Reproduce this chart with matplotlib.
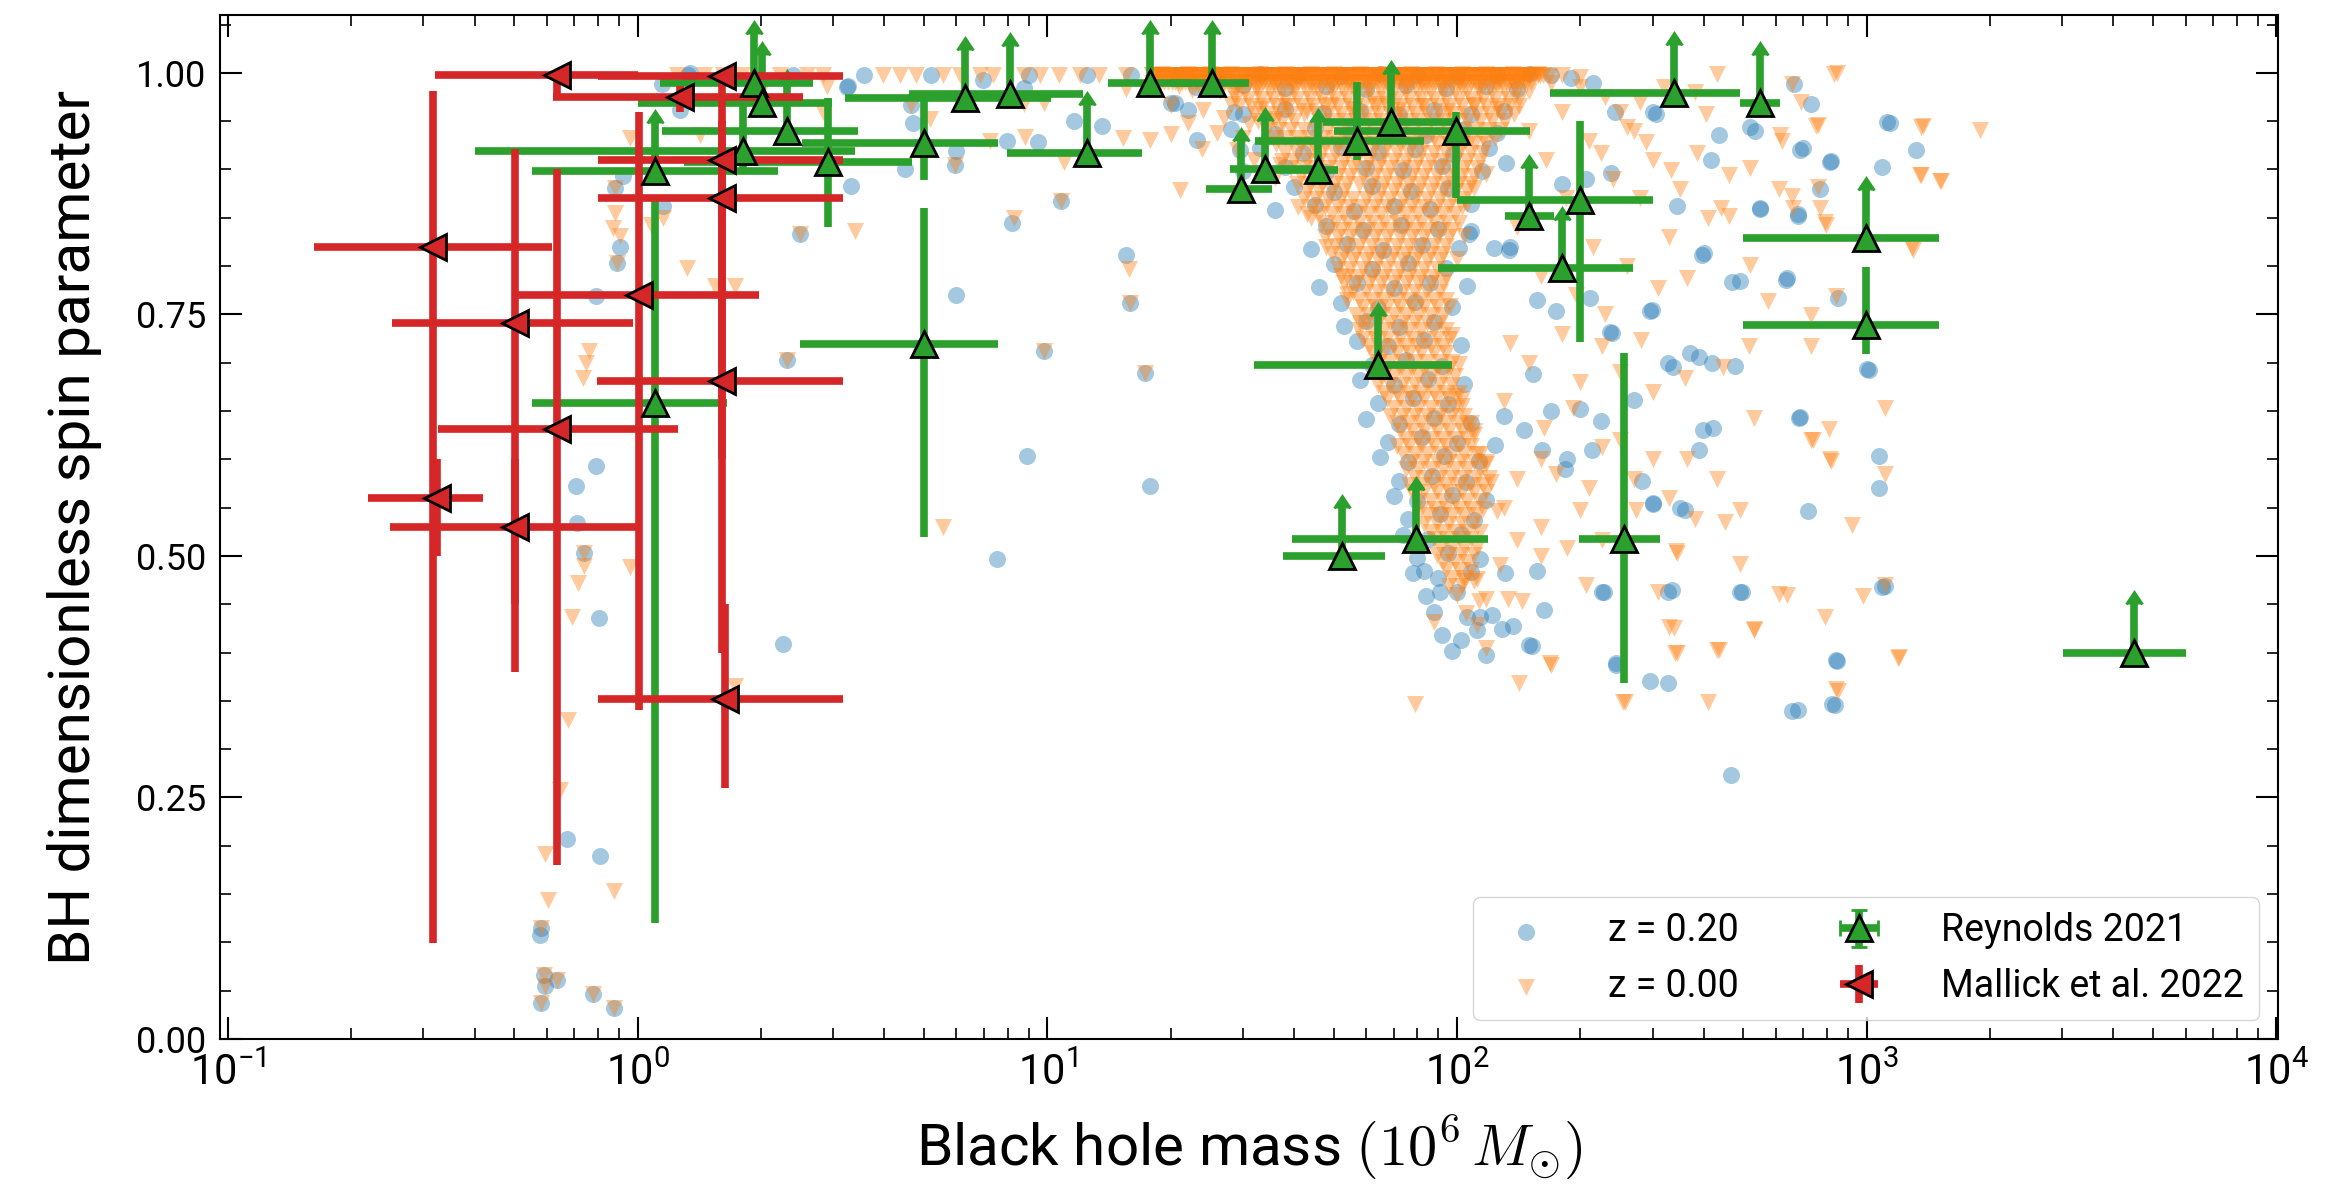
import matplotlib
matplotlib.use('Agg')
import matplotlib.pyplot as plt
from matplotlib.ticker import MultipleLocator, FormatStrFormatter
import numpy as np

plt.rcParams['font.family'] = ['Roboto', 'DejaVu Sans']

# ---------------- observations ----------------
# Reynolds 2021 (mass in 1e6 Msun, spin); bounds of the bars
reynolds_mass = [1.10, 1.10, 1.92, 2.01, 2.31, 1.81, 2.91, 4.99, 6.30, 8.11, 12.5, 17.8, 25.2, 4.99,
                 29.7, 34.0, 45.7, 56.9, 69.0, 99.7, 150, 200, 180, 339, 549, 998, 998, 64.1,
                 52.5, 79.3, 256, 4500]
reynolds_spin = [0.898, 0.658, 0.990, 0.969, 0.940, 0.919, 0.908, 0.927, 0.974, 0.978, 0.917, 0.990,
                 0.990, 0.719, 0.880, 0.900, 0.899, 0.929, 0.949, 0.940, 0.852, 0.868, 0.798, 0.979,
                 0.969, 0.829, 0.739, 0.698, 0.500, 0.518, 0.518, 0.400]
reynolds_mass_lo = [0.552, 0.552, 1.135, 1.0, 1.15, 0.40, 1.3, 2.52, 3.2, 4.6, 7.96, 14.1, 20.0, 2.49,
                    24.4, 27.9, 36.0, 32.1, 47.0, 50.0, 131, 99.8, 90, 169, 490, 499, 499, 32.0,
                    37.6, 39.5, 198, 3007]
reynolds_mass_hi = [2.2, 1.65, 2.68, 2.98, 3.45, 3.4, 4.67, 7.6, 10.2, 12.2, 17.0, 22.6, 31.0, 7.6,
                    35.3, 45.0, 51.2, 83.0, 100, 151, 172, 301, 269, 490, 614, 1500, 1500, 97.0,
                    66.8, 119, 313, 6010]
reynolds_spin_lo = [0.898, 0.12, 0.990, 0.969, 0.940, 0.90, 0.840, 0.889, 0.974, 0.978, 0.917, 0.990,
                    0.990, 0.52, 0.880, 0.900, 0.899, 0.910, 0.949, 0.871, 0.852, 0.721, 0.798, 0.979,
                    0.969, 0.829, 0.709, 0.698, 0.500, 0.518, 0.368, 0.400]
reynolds_spin_hi = [0.948, 0.87, 1.040, 1.019, 0.990, 0.975, 0.974, 0.971, 1.024, 1.028, 0.967, 1.040,
                    1.040, 0.86, 0.930, 0.950, 0.949, 0.991, 0.999, 0.960, 0.902, 0.950, 0.848, 1.029,
                    1.019, 0.879, 0.799, 0.748, 0.550, 0.568, 0.710, 0.450]
reynolds_lolim = [True, False, True, True, True, False, False, False, True, True, True, True, True, False,
                  True, True, True, False, True, False, True, False, True, True, True, True, False, True,
                  True, True, False, True]

# Mallick et al. 2022
mallick_mass = [0.635, 1.61, 1.27, 1.61, 1.61, 0.317, 1.01, 0.502, 1.61, 0.635, 0.324, 0.502, 1.63]
mallick_spin = [0.998, 0.997, 0.975, 0.910, 0.871, 0.820, 0.770, 0.741, 0.681, 0.631, 0.560, 0.530, 0.352]
mallick_mass_lo = [0.32, 0.80, 0.62, 0.80, 0.80, 0.162, 0.507, 0.251, 0.795, 0.326, 0.22, 0.249, 0.80]
mallick_mass_hi = [1.0, 3.17, 2.54, 3.17, 3.17, 0.617, 1.98, 0.975, 3.17, 1.256, 0.42, 0.995, 3.17]
mallick_spin_lo = [0.975, 0.997, 0.959, 0.85, 0.60, 0.099, 0.341, 0.380, 0.40, 0.18, 0.50, 0.45, 0.26]
mallick_spin_hi = [0.998, 0.997, 0.986, 0.991, 0.95, 0.981, 0.960, 0.921, 0.90, 0.90, 0.60, 0.60, 0.45]

# ---------------- simulated black holes, z = 0.20 ----------------
z20_low = [(0.71, 0.534), (0.74, 0.503), (0.807, 0.436), (0.674, 0.207), (0.81, 0.189), (0.58, 0.115),
           (0.578, 0.108), (0.59, 0.066), (0.595, 0.055), (0.635, 0.061), (0.58, 0.037), (0.777, 0.047),
           (0.876, 0.032), (1.34, 1.0), (1.146, 0.988), (1.27, 0.962), (0.923, 0.893), (0.881, 0.881),
           (0.906, 0.820), (0.89, 0.803), (1.156, 0.862), (0.79, 0.769), (0.79, 0.593), (0.708, 0.572),
           (2.27, 0.409), (1.33, 0.998), (3.25, 0.985)]
z20_mid = [(2.40, 0.998), (3.56, 0.998), (3.27, 0.986), (4.66, 0.967), (4.71, 0.948), (6.0, 0.919),
           (5.95, 0.905), (4.49, 0.90), (3.31, 0.883), (2.49, 0.833), (6.97, 0.993), (8.75, 0.984),
           (11.6, 0.950), (13.6, 0.945), (7.96, 0.929), (9.5, 0.928), (8.19, 0.845), (10.8, 0.867),
           (15.6, 0.812), (15.9, 0.762), (6.0, 0.770), (9.79, 0.712), (2.31, 0.703), (17.3, 0.689),
           (8.91, 0.603), (17.8, 0.572), (7.54, 0.497), (20.0, 0.969), (20.5, 0.969), (28.5, 0.960),
           (23.2, 0.931), (29.5, 0.92), (5.2, 0.998), (9.0, 0.998), (12.5, 0.998), (16.0, 0.998)]
z20_band = [(21, 0.998), (26, 0.997), (33, 0.999), (41, 0.998), (52, 0.997), (65, 0.999), (80, 0.998),
            (100, 0.997), (125, 0.998), (150, 0.999), (170, 0.998), (190, 0.995), (215, 0.99),
            (23, 0.985), (30, 0.987), (38, 0.984), (48, 0.986), (60, 0.983), (75, 0.987), (94, 0.984),
            (118, 0.986), (140, 0.983)]
z20_core = [(22, 0.962), (30, 0.957), (38, 0.963), (47, 0.958), (58, 0.961), (72, 0.956), (88, 0.962),
            (108, 0.957), (130, 0.961),
            (28, 0.942), (36, 0.937), (45, 0.943), (55, 0.938), (68, 0.941), (84, 0.936), (104, 0.942), (125, 0.938),
            (33, 0.922), (42, 0.917), (52, 0.923), (64, 0.918), (79, 0.921), (98, 0.916), (120, 0.922),
            (30, 0.898), (38, 0.903), (48, 0.897), (60, 0.902), (74, 0.899), (92, 0.904), (115, 0.898),
            (40, 0.882), (50, 0.877), (62, 0.883), (77, 0.878), (95, 0.881),
            (36, 0.858), (45, 0.863), (56, 0.857), (70, 0.862), (86, 0.859), (108, 0.864),
            (48, 0.842), (59, 0.837), (73, 0.843), (90, 0.838),
            (44, 0.818), (54, 0.823), (66, 0.817), (82, 0.822), (101, 0.819),
            (50, 0.802), (62, 0.797), (76, 0.803), (94, 0.798),
            (46, 0.778), (57, 0.783), (70, 0.777), (86, 0.782), (106, 0.779),
            (52, 0.762), (64, 0.757), (79, 0.763), (97, 0.758),
            (53, 0.738), (60, 0.743), (72, 0.737), (88, 0.742),
            (57, 0.722), (68, 0.717), (83, 0.723), (102, 0.718),
            (62, 0.698), (75, 0.703), (92, 0.697),
            (58, 0.682), (70, 0.677), (85, 0.683), (104, 0.678),
            (64, 0.658), (78, 0.663), (95, 0.657),
            (60, 0.642), (72, 0.637), (88, 0.643), (108, 0.638),
            (68, 0.618), (82, 0.623), (100, 0.617),
            (65, 0.602), (76, 0.597), (93, 0.603), (113, 0.598),
            (72, 0.578), (87, 0.583), (105, 0.577),
            (70, 0.562), (80, 0.557), (97, 0.563), (118, 0.558),
            (76, 0.538), (91, 0.543), (110, 0.537),
            (74, 0.522), (85, 0.517), (102, 0.523),
            (80, 0.498), (95, 0.503), (114, 0.497),
            (78, 0.482), (90, 0.477), (108, 0.483),
            (84, 0.458), (100, 0.463), (88, 0.442), (106, 0.437),
            (92, 0.418), (112, 0.423), (97, 0.402), (118, 0.397)]
z20_right = [(132, 0.907), (108, 0.836), (134, 0.817), (306, 0.957), (344, 0.862), (397, 0.812),
             (436, 0.936), (520, 0.944), (688, 0.920), (815, 0.908), (550, 0.859), (680, 0.854),
             (634, 0.786), (490, 0.785), (296, 0.754), (239, 0.731), (390, 0.706), (337, 0.696),
             (476, 0.697), (422, 0.632), (688, 0.644), (1070, 0.603), (1070, 0.570), (720, 0.546),
             (1000, 0.693), (1120, 0.949), (1320, 0.920), (1090, 0.903), (296, 0.371), (245, 0.389),
             (466, 0.273), (657, 0.339), (823, 0.347), (840, 0.392), (301, 0.554), (360, 0.548),
             (490, 0.463), (1090, 0.468), (186, 0.600), (226, 0.463), (163, 0.444), (150, 0.408),
             (102, 0.413), (122, 0.439), (327, 0.463), (83, 0.484), (91, 0.463), (114, 0.437),
             (129, 0.424), (137, 0.427), (152, 0.407), (131, 0.482), (157, 0.484), (228, 0.463),
             (245, 0.387), (328, 0.368), (335, 0.465), (495, 0.463), (664, 0.989), (730, 0.968),
             (700, 0.922), (820, 0.909), (1140, 0.948), (770, 0.880), (680, 0.852), (640, 0.788),
             (850, 0.767), (1010, 0.692), (685, 0.643), (1110, 0.469), (845, 0.391), (838, 0.346),
             (680, 0.34), (107, 0.833), (123, 0.819), (135, 0.82), (157, 0.765), (174, 0.754),
             (211, 0.767), (236, 0.732), (299, 0.755), (301, 0.960), (243, 0.960), (400, 0.814),
             (470, 0.784), (535, 0.94), (549, 0.860), (416, 0.91), (238, 0.896), (180, 0.885),
             (207, 0.89), (153, 0.688), (130, 0.645), (124, 0.615), (146, 0.63), (170, 0.65),
             (200, 0.652), (225, 0.64), (161, 0.61), (183, 0.59), (214, 0.61), (283, 0.578),
             (328, 0.70), (370, 0.71), (420, 0.70), (350, 0.55), (390, 0.61), (398, 0.63),
             (300, 0.555), (270, 0.661)]

# ---------------- simulated black holes, z = 0.00 ----------------
z0_low = [(0.74, 0.49), (0.96, 0.489), (0.715, 0.472), (0.693, 0.437), (0.678, 0.330), (0.647, 0.258),
          (0.594, 0.191), (0.876, 0.153), (0.603, 0.144), (0.58, 0.115), (0.59, 0.066), (0.595, 0.055),
          (0.635, 0.061), (0.58, 0.037), (0.777, 0.047), (0.876, 0.032), (0.96, 0.933), (1.42, 0.936),
          (0.881, 0.881), (0.881, 0.855), (0.873, 0.839), (0.906, 0.831), (0.89, 0.803), (1.156, 0.85),
          (1.08, 0.843), (1.318, 0.798), (1.545, 0.779), (1.73, 0.779), (0.759, 0.712), (0.75, 0.70),
          (0.737, 0.684), (1.73, 0.365), (0.74, 0.503), (1.25, 0.998), (1.45, 0.998), (1.62, 0.998),
          (1.8, 0.998), (2.05, 0.990)]
z0_mid = [(2.23, 0.998), (2.59, 0.998), (2.84, 0.998), (3.98, 0.998), (4.37, 0.998), (4.79, 0.998),
          (5.57, 0.998), (6.13, 0.998), (6.85, 0.998), (7.39, 0.998), (8.75, 0.998), (9.6, 0.998),
          (10.7, 0.998), (12.0, 0.998), (13.4, 0.998), (15.6, 0.998), (20.3, 0.998), (22.3, 0.998),
          (2.9, 0.986), (2.84, 0.96), (4.66, 0.967), (5.17, 0.952), (5.95, 0.905), (2.49, 0.833),
          (3.4, 0.836), (9.79, 0.969), (8.75, 0.968), (8.83, 0.934), (7.24, 0.930), (11.0, 0.908),
          (8.3, 0.85), (10.8, 0.867), (15.8, 0.797), (15.9, 0.762), (9.79, 0.712), (2.31, 0.703),
          (17.3, 0.689), (5.57, 0.530), (20.0, 0.937), (15.3, 0.933), (23.8, 0.921), (17.8, 0.931),
          (21.1, 0.879), (15.6, 0.983), (22.6, 0.982), (28.9, 0.982), (18.0, 0.990), (25.0, 0.998)]
# black holes at the maximal spin 0.998 (the solid band at the top)
z0_maxspin_mass = [18.0, 18.3, 18.5, 18.8, 19.0, 19.3, 19.6, 19.8, 20.1, 20.4, 20.7, 21.0, 21.3, 21.6,
                   21.9, 22.2, 22.5, 22.8, 23.1, 23.5, 23.8, 24.1, 24.5, 24.8, 25.2, 25.5, 25.9, 26.2,
                   26.6, 27.0, 27.4, 27.7, 28.1, 28.5, 28.9, 29.3, 29.8, 30.2, 30.6, 31.0, 31.5, 31.9,
                   32.4, 32.8, 33.3, 33.7, 34.2, 34.7, 35.2, 35.7, 36.2, 36.7, 37.2, 37.7, 38.3, 38.8,
                   39.3, 39.9, 40.4, 41.0, 41.6, 42.2, 42.8, 43.4, 44.0, 44.6, 45.2, 45.9, 46.5, 47.2,
                   47.8, 48.5, 49.2, 49.9, 50.6, 51.3, 52.0, 52.7, 53.5, 54.2, 55.0, 55.8, 56.5, 57.3,
                   58.1, 59.0, 59.8, 60.6, 61.5, 62.3, 63.2, 64.1, 65.0, 65.9, 66.9, 67.8, 68.8, 69.7,
                   70.7, 71.7, 72.7, 73.8, 74.8, 75.9, 76.9, 78.0, 79.1, 80.2, 81.4, 82.5, 83.7, 84.9,
                   86.1, 87.3, 88.5, 89.8, 91.0, 92.3, 93.6, 95.0, 96.3, 97.7, 99.1, 100.5, 101.9,
                   103.3, 104.8, 106.3, 107.8, 109.3, 110.8, 112.4, 114.0, 115.6, 117.2, 118.9, 120.6,
                   122.3, 124.0, 125.8, 127.6, 129.4, 131.2, 133.0, 134.9, 136.8, 138.8, 140.7, 142.7,
                   144.8, 146.8, 148.9, 151.0, 153.2, 155.3, 157.5, 159.8, 162.0]
# just below the maximal spin (0.991)
z0_nearmax_mass = [18.2, 18.6, 18.9, 19.3, 19.7, 20.1, 20.5, 20.9, 21.3, 21.7, 22.2, 22.6, 23.1, 23.5,
                   24.0, 24.5, 25.0, 25.5, 26.0, 26.5, 27.0, 27.6, 28.1, 28.7, 29.3, 29.8, 30.4, 31.0,
                   31.7, 32.3, 32.9, 33.6, 34.3, 34.9, 35.6, 36.4, 37.1, 37.8, 38.6, 39.4, 40.1, 40.9,
                   41.8, 42.6, 43.5, 44.3, 45.2, 46.1, 47.0, 48.0, 48.9, 49.9, 50.9, 51.9, 53.0, 54.0,
                   55.1, 56.2, 57.3, 58.5, 59.6, 60.8, 62.1, 63.3, 64.6, 65.9, 67.2, 68.5, 69.9, 71.3,
                   72.7, 74.2, 75.6, 77.2, 78.7, 80.3, 81.9, 83.5, 85.2, 86.9, 88.6, 90.4, 92.2, 94.0,
                   95.9, 97.8, 99.8, 101.8, 103.8, 105.9, 108.0, 110.2, 112.4, 114.6, 116.9, 119.2,
                   121.6, 124.1, 126.5, 129.1, 131.7, 134.3, 137.0, 139.7, 142.5, 145.4, 148.3, 151.3]
z0_band = [(18, 0.998), (19, 0.999), (20, 0.997), (21, 0.998), (22, 0.999), (23, 0.997), (24, 0.998),
           (25, 0.999), (26, 0.997), (27, 0.998), (28, 0.999), (30, 0.997), (31, 0.998), (33, 0.999),
           (34, 0.997), (36, 0.998), (38, 0.999), (40, 0.997), (42, 0.998), (44, 0.999), (46, 0.997),
           (48, 0.998), (50, 0.999), (53, 0.997), (55, 0.998), (58, 0.999), (61, 0.997), (64, 0.998),
           (67, 0.999), (70, 0.997), (73, 0.998), (77, 0.999), (81, 0.997), (85, 0.998), (89, 0.999),
           (93, 0.997), (98, 0.998), (103, 0.999), (108, 0.997), (113, 0.998), (118, 0.999),
           (124, 0.997), (130, 0.998), (137, 0.999), (144, 0.997), (151, 0.998), (158, 0.999),
           (168, 0.997), (180, 0.998), (200, 0.996),
           (21, 0.986), (23.5, 0.985), (26, 0.987), (29, 0.986), (32.5, 0.985), (36, 0.987),
           (40, 0.986), (44.5, 0.985), (49.5, 0.987), (55, 0.986), (61, 0.985), (68, 0.987),
           (75, 0.986), (83, 0.985), (92, 0.987), (102, 0.986), (113, 0.985), (125, 0.987), (138, 0.986)]
# dense part of the z = 0 cloud, one row per spin value
z0_dense_spin = [0.981, 0.973, 0.966, 0.957, 0.950, 0.941, 0.933, 0.926, 0.917, 0.909, 0.902, 0.893,
                 0.885, 0.878, 0.869, 0.861, 0.854, 0.845, 0.837, 0.830, 0.821, 0.813, 0.806, 0.797,
                 0.789, 0.782, 0.773, 0.765, 0.758, 0.749, 0.741, 0.734, 0.725, 0.717, 0.710, 0.701,
                 0.693, 0.686, 0.677, 0.669, 0.662, 0.653, 0.645, 0.638, 0.629, 0.621, 0.614, 0.605,
                 0.597, 0.590, 0.581, 0.573, 0.566, 0.557, 0.549, 0.542, 0.533, 0.525, 0.518, 0.509,
                 0.501, 0.494, 0.485, 0.477, 0.469]
z0_dense_mass = [
    [26.4, 28.3, 30.4, 32.6, 34.9, 37.4, 40.1, 43, 46.1, 49.4, 53, 56.8, 60.9, 65.3, 70, 75, 80.4, 86.2, 92.4, 99.1, 106, 114, 122, 131, 140, 150],
    [28.8, 30.9, 33.2, 35.5, 38.1, 40.8, 43.8, 46.9, 50.3, 53.9, 57.8, 62, 66.4, 71.2, 76.3, 81.8, 87.7, 94, 101, 108, 116, 124, 133, 142],
    [29.3, 31.4, 33.7, 36.1, 38.7, 41.5, 44.5, 47.7, 51.1, 54.8, 58.8, 63, 67.6, 72.4, 77.6, 83.2, 89.2, 95.6, 103, 110, 118, 126, 135],
    [32, 34.3, 36.7, 39.4, 42.2, 45.3, 48.5, 52, 55.8, 59.8, 64.1, 68.7, 73.7, 78.9, 84.6, 90.7, 97.3, 104, 112, 120, 128, 138],
    [32.6, 34.9, 37.4, 40.1, 46.1, 49.4, 53, 56.8, 60.9, 65.3, 70, 75, 80.4, 86.2, 92.4, 99.1, 106, 114, 122, 131],
    [34.3, 36.7, 39.4, 42.2, 45.3, 48.5, 52, 55.8, 59.8, 64.1, 68.7, 73.7, 78.9, 84.6, 90.7, 97.3, 104, 112, 120, 128],
    [35.5, 38.1, 40.8, 43.8, 46.9, 50.3, 53.9, 57.8, 62, 66.4, 71.2, 76.3, 81.8, 87.7, 94, 101, 108, 116, 124],
    [36.1, 41.5, 44.5, 47.7, 51.1, 54.8, 58.8, 63, 67.6, 72.4, 77.6, 83.2, 89.2, 95.6, 103, 110, 118],
    [38.1, 40.8, 43.8, 46.9, 50.3, 53.9, 57.8, 62, 66.4, 71.2, 76.3, 81.8, 87.7, 94, 101, 108, 116],
    [37.4, 40.1, 43, 46.1, 49.4, 53, 56.8, 60.9, 65.3, 70, 75, 80.4, 86.2, 92.4, 99.1, 106, 114],
    [39.4, 42.2, 45.3, 48.5, 52, 55.8, 59.8, 64.1, 68.7, 73.7, 78.9, 84.6, 90.7, 97.3, 104, 112],
    [41.5, 44.5, 47.7, 51.1, 54.8, 58.8, 63, 67.6, 72.4, 77.6, 83.2, 89.2, 95.6, 103, 110],
    [40.8, 43.8, 46.9, 50.3, 53.9, 57.8, 62, 66.4, 71.2, 76.3, 81.8, 87.7, 94, 101, 108],
    [43, 46.1, 49.4, 53, 60.9, 65.3, 70, 75, 80.4, 86.2, 92.4, 99.1, 106],
    [42.2, 45.3, 48.5, 52, 55.8, 59.8, 64.1, 68.7, 73.7, 78.9, 84.6, 90.7, 97.3, 104],
    [44.5, 47.7, 51.1, 54.8, 58.8, 63, 67.6, 72.4, 77.6, 83.2, 89.2, 95.6, 103],
    [43, 46.1, 49.4, 53, 56.8, 60.9, 65.3, 70, 75, 80.4, 86.2, 92.4, 99.1],
    [46.9, 50.3, 53.9, 57.8, 62, 66.4, 71.2, 76.3, 81.8, 87.7, 94, 101],
    [48.5, 52, 55.8, 59.8, 64.1, 68.7, 73.7, 78.9, 84.6, 90.7, 97.3],
    [47.7, 51.1, 54.8, 58.8, 63, 67.6, 72.4, 77.6, 83.2, 89.2, 95.6],
    [50.3, 53.9, 57.8, 62, 66.4, 71.2, 76.3, 81.8, 87.7, 94],
    [49.4, 53, 56.8, 60.9, 65.3, 70, 75, 80.4, 86.2, 92.4],
    [52, 55.8, 59.8, 64.1, 68.7, 73.7, 78.9, 84.6, 90.7],
    [51.1, 54.8, 58.8, 63, 67.6, 72.4, 77.6, 83.2, 89.2],
    [53.9, 57.8, 62, 66.4, 71.2, 76.3, 81.8, 87.7, 94],
    [53, 56.8, 60.9, 65.3, 70, 75, 80.4, 86.2, 92.4],
    [55.8, 59.8, 64.1, 68.7, 73.7, 78.9, 84.6, 90.7],
    [53.9, 57.8, 62, 66.4, 71.2, 76.3, 81.8, 87.7, 94],
    [58.8, 63, 67.6, 72.4, 77.6, 83.2, 89.2],
    [56.8, 60.9, 65.3, 70, 75, 80.4, 86.2, 92.4],
    [59.8, 64.1, 68.7, 73.7, 78.9, 84.6, 90.7],
    [57.8, 62, 66.4, 71.2, 76.3, 81.8, 87.7, 94],
    [58.8, 63, 67.6, 72.4, 77.6, 83.2, 89.2, 95.6],
    [60.9, 65.3, 70, 75, 80.4, 86.2, 92.4],
    [62, 66.4, 71.2, 76.3, 81.8, 87.7, 94],
    [64.1, 68.7, 73.7, 78.9, 84.6, 90.7, 97.3],
    [63, 67.6, 72.4, 77.6, 83.2, 89.2, 95.6],
    [65.3, 70, 75, 80.4, 86.2, 92.4, 99.1],
    [64.1, 68.7, 73.7, 78.9, 84.6, 90.7, 97.3],
    [66.4, 71.2, 76.3, 81.8, 87.7, 94, 101],
    [67.6, 72.4, 77.6, 83.2, 89.2, 95.6, 103],
    [70, 75, 80.4, 86.2, 92.4, 99.1],
    [68.7, 73.7, 78.9, 84.6, 90.7, 97.3, 104],
    [71.2, 76.3, 81.8, 87.7, 94, 101, 108],
    [72.4, 77.6, 83.2, 89.2, 95.6, 103, 110],
    [75, 80.4, 86.2, 92.4, 99.1, 106],
    [71.2, 76.3, 81.8, 87.7, 94, 101, 108],
    [73.7, 78.9, 84.6, 90.7, 97.3, 104, 112],
    [77.6, 83.2, 89.2, 95.6, 103, 110, 118],
    [75, 80.4, 86.2, 92.4, 99.1, 106, 114],
    [78.9, 84.6, 90.7, 97.3, 104, 112, 120],
    [76.3, 81.8, 87.7, 94, 101, 108, 116],
    [77.6, 83.2, 89.2, 95.6, 103, 110, 118],
    [80.4, 86.2, 92.4, 99.1, 106, 114],
    [81.8, 87.7, 94, 101, 108, 116],
    [84.6, 90.7, 97.3, 104, 112],
    [83.2, 89.2, 95.6, 103, 110],
    [86.2, 92.4, 99.1, 106, 114],
    [87.7, 94, 101, 108],
    [90.7, 97.3, 104, 112],
    [89.2, 95.6, 103, 110],
    [92.4, 99.1, 106],
    [94, 101, 108],
    [97.3, 104],
    [95.6, 103]]
z0_core = [(20, 0.967), (24, 0.962), (28, 0.968), (33, 0.963), (38, 0.966), (43, 0.961), (49, 0.967),
           (56, 0.963), (64, 0.968), (72, 0.962), (82, 0.966), (95, 0.961), (110, 0.967), (125, 0.963),
           (142, 0.966), (22, 0.948), (27, 0.953), (31, 0.947), (36, 0.952), (26, 0.938), (30, 0.933),
           (29, 0.920), (34, 0.925), (32, 0.910), (37, 0.905), (36, 0.891), (118, 0.895), (110, 0.881),
           (41, 0.861), (106, 0.864), (44, 0.850), (104, 0.831), (48, 0.820), (100, 0.807),
           (52, 0.790), (54, 0.771), (96, 0.759), (58, 0.741), (97, 0.729), (101, 0.699),
           (99, 0.666), (103, 0.655), (106, 0.636), (110, 0.625), (114, 0.606), (118, 0.595),
           (121, 0.576), (125, 0.546), (140, 0.516), (160, 0.500), (127, 0.491), (112, 0.476),
           (118, 0.455), (105, 0.441), (88, 0.432), (112, 0.428), (100, 0.460)]
z0_right = [(834, 0.999), (430, 0.999), (657, 0.989), (1360, 0.944), (1890, 0.941), (1510, 0.888),
            (1360, 0.894), (760, 0.946), (613, 0.936), (520, 0.902), (405, 0.957), (385, 0.917),
            (332, 0.899), (290, 0.928), (225, 0.917), (260, 0.944), (460, 0.894), (760, 0.882),
            (790, 0.846), (1295, 0.817), (460, 0.852), (657, 0.873), (520, 0.801), (575, 0.764),
            (840, 0.769), (730, 0.717), (515, 0.717), (365, 0.788), (310, 0.777), (282, 0.724),
            (226, 0.717), (445, 0.696), (360, 0.684), (530, 0.643), (1110, 0.653), (1110, 0.585),
            (820, 0.598), (730, 0.620), (920, 0.532), (365, 0.600), (430, 0.580), (490, 0.548),
            (380, 0.538), (450, 0.535), (344, 0.503), (310, 0.463), (612, 0.461), (980, 0.458),
            (1110, 0.47), (790, 0.437), (530, 0.423), (330, 0.426), (430, 0.403), (340, 0.400),
            (1190, 0.394), (840, 0.362), (410, 0.349), (257, 0.349), (142, 0.368), (79, 0.347),
            (169, 0.389), (118, 0.405), (104, 0.474), (144, 0.453), (186, 0.508), (226, 0.516),
            (274, 0.548), (200, 0.548), (174, 0.585), (226, 0.613), (192, 0.653), (163, 0.632),
            (170, 0.387), (254, 0.349), (339, 0.425), (345, 0.400), (435, 0.403), (530, 0.424),
            (133, 0.455), (113, 0.453), (110, 0.474), (207, 0.470), (343, 0.505), (490, 0.492),
            (845, 1.0), (690, 0.970), (750, 0.945), (1370, 0.945), (1350, 0.894), (1520, 0.888),
            (620, 0.93), (610, 0.88), (660, 0.86), (770, 0.86), (795, 0.843), (1290, 0.820),
            (730, 0.749), (810, 0.631), (740, 0.62), (815, 0.60), (1200, 0.395), (850, 0.36),
            (640, 0.46), (170, 0.99), (200, 0.985), (230, 0.975), (180, 0.96), (250, 0.96),
            (280, 0.97), (320, 0.985), (380, 0.98), (150, 0.94), (210, 0.93), (270, 0.94),
            (300, 0.91), (165, 0.91), (240, 0.89), (185, 0.87), (280, 0.87), (350, 0.88),
            (410, 0.85), (140, 0.84), (215, 0.82), (260, 0.80), (330, 0.83), (440, 0.86),
            (160, 0.79), (195, 0.77), (230, 0.75), (180, 0.73), (135, 0.72), (150, 0.70),
            (250, 0.69), (300, 0.67), (200, 0.68), (130, 0.66), (160, 0.60), (250, 0.62),
            (300, 0.60), (140, 0.58), (210, 0.57), (130, 0.55), (160, 0.53), (270, 0.58),
            (330, 0.56)]


def split(points):
    m, a = zip(*points)
    return list(m), list(a)


fig = plt.figure(figsize=(23.26, 11.84), dpi=100)
ax = fig.add_axes([0.0946, 0.1225, 0.8848, 0.8649])

m20, a20 = split(z20_low + z20_mid + z20_band + z20_core + z20_right)
m0, a0 = split(z0_low + z0_mid + z0_band + z0_core + z0_right)
for spin, row in zip(z0_dense_spin, z0_dense_mass):
    m0 += row
    a0 += [spin] * len(row)
m0 += z0_maxspin_mass + z0_nearmax_mass
a0 += [0.998] * len(z0_maxspin_mass) + [0.991] * len(z0_nearmax_mass)

ax.scatter(m20, a20, s=150, marker='o', color='tab:blue', alpha=0.4, linewidths=0, label='z = 0.20')
ax.scatter(m0, a0, s=150, marker='v', color='tab:orange', alpha=0.4, linewidths=0, label='z = 0.00')

# Reynolds 2021
rm = np.array(reynolds_mass)
rs = np.array(reynolds_spin)
xerr_r = [rm - np.array(reynolds_mass_lo), np.array(reynolds_mass_hi) - rm]
yerr_r = [rs - np.array(reynolds_spin_lo), np.array(reynolds_spin_hi) - rs]
eb_r = ax.errorbar(rm, rs, xerr=xerr_r, yerr=yerr_r, lolims=reynolds_lolim, fmt='^', color='tab:green',
                   ecolor='tab:green', elinewidth=5.5, capsize=6, capthick=2, markersize=19,
                   markerfacecolor='tab:green', markeredgecolor='black', markeredgewidth=2,
                   label='Reynolds 2021')

# Mallick et al. 2022
mm = np.array(mallick_mass)
ms = np.array(mallick_spin)
xerr_m = [mm - np.array(mallick_mass_lo), np.array(mallick_mass_hi) - mm]
yerr_m = [ms - np.array(mallick_spin_lo), np.array(mallick_spin_hi) - ms]
ax.errorbar(mm, ms, xerr=xerr_m, yerr=yerr_m, fmt='<', color='tab:red', ecolor='tab:red',
            elinewidth=5.5, capsize=0, markersize=19, markerfacecolor='tab:red',
            markeredgecolor='black', markeredgewidth=2, label='Mallick et al. 2022')

ax.set_xscale('log')
ax.set_xlim(0.0957, 10092)
ax.set_ylim(0, 1.06)
ax.yaxis.set_major_locator(MultipleLocator(0.25))
ax.yaxis.set_minor_locator(MultipleLocator(0.05))
ax.yaxis.set_major_formatter(FormatStrFormatter('%.2f'))

ax.tick_params(which='both', direction='in', top=True, right=True)
ax.tick_params(which='major', length=16, width=1.5)
ax.tick_params(which='minor', length=8, width=1.2)
ax.tick_params(axis='x', which='major', labelsize=30, pad=10)
ax.tick_params(axis='y', which='major', labelsize=26, pad=10)
for sp in ax.spines.values():
    sp.set_linewidth(1.5)

ax.set_xlabel(r'Black hole mass $(10^6\,M_{\odot})$', fontsize=42, labelpad=14, math_fontfamily='cm')
ax.set_ylabel('BH dimensionless spin parameter', fontsize=42, labelpad=24)

ax.legend(loc='lower right', ncol=2, fontsize=27, handletextpad=1.2, columnspacing=2.2)

# plain bar ends on the plot (legend keeps its caps), only the limit arrows stay
for cl in eb_r[1]:
    if cl.get_marker() in ('|', '_'):
        cl.set_visible(False)

fig.savefig('out.png', dpi=100)
